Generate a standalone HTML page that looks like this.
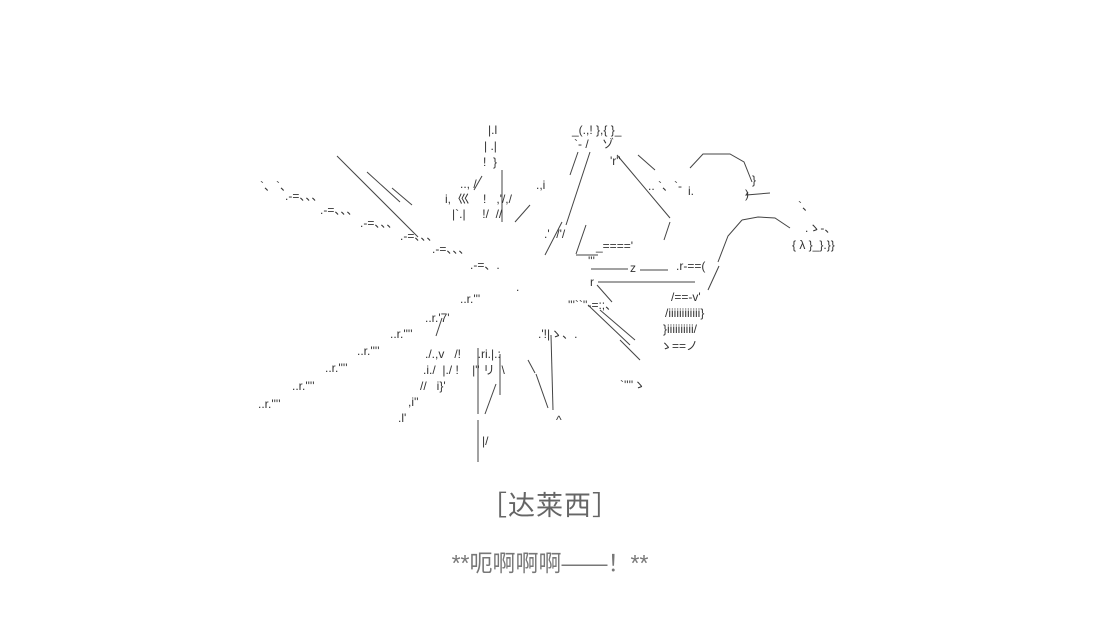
<!DOCTYPE html>
<html><head><meta charset="utf-8"><style>
html,body{margin:0;padding:0;background:#fff;width:1100px;height:633px;overflow:hidden}
svg{position:absolute;left:0;top:0}
text{font-family:"Liberation Sans","Noto Sans CJK SC",sans-serif;fill:#333;font-size:12px}
.c{position:absolute;left:0;width:1100px;text-align:center;color:#666;font-family:"Liberation Sans","Noto Sans CJK SC",sans-serif}
</style></head><body>
<svg width="1100" height="633" viewBox="0 0 1100 633">
<g stroke="#444" stroke-width="1" fill="none">
<line x1="337" y1="156" x2="418" y2="237"/>
<line x1="367" y1="172" x2="400" y2="202"/>
<line x1="392" y1="188" x2="412" y2="205"/>
<line x1="502" y1="170" x2="502" y2="222"/>
<line x1="482" y1="176" x2="474" y2="190"/>
<line x1="515" y1="222" x2="530" y2="205"/>
<line x1="578" y1="152" x2="570" y2="175"/>
<line x1="590" y1="152" x2="566" y2="225"/>
<line x1="562" y1="222" x2="545" y2="255"/>
<line x1="586" y1="225" x2="576" y2="254"/>
<line x1="576" y1="255" x2="598" y2="255"/>
<line x1="617" y1="155" x2="670" y2="218"/>
<line x1="670" y1="222" x2="664" y2="240"/>
<line x1="638" y1="155" x2="655" y2="170"/>
<path d="M690 168 L703 154 L730 154 L744 162 L752 182"/>
<path d="M748 192 L746 195 L770 193"/>
<path d="M742 220 L758 217 L775 218 L790 228"/>
<path d="M742 220 L728 236 L718 262"/>
<line x1="719" y1="266" x2="708" y2="290"/>
<line x1="591" y1="269" x2="628" y2="269"/>
<line x1="640" y1="270" x2="668" y2="270"/>
<line x1="598" y1="282" x2="695" y2="282"/>
<line x1="597" y1="285" x2="612" y2="302"/>
<line x1="588" y1="305" x2="630" y2="345"/>
<line x1="600" y1="310" x2="635" y2="340"/>
<line x1="620" y1="340" x2="640" y2="360"/>
<line x1="442" y1="318" x2="436" y2="336"/>
<line x1="478" y1="348" x2="478" y2="414"/>
<line x1="478" y1="420" x2="478" y2="462"/>
<line x1="496" y1="384" x2="485" y2="414"/>
<line x1="500" y1="354" x2="500" y2="395"/>
<line x1="551" y1="335" x2="553" y2="410"/>
<line x1="536" y1="374" x2="548" y2="408"/>
<line x1="528" y1="360" x2="535" y2="373"/>
</g>
<text x="488" y="134">|.l</text>
<text x="484" y="150">| .|</text>
<text x="483" y="166">!&#160;&#160;}</text>
<text x="460" y="188">..,&#160;/</text>
<text x="445" y="203">i,&#160;&#160;巛&#160;&#160;&#160;&#160;!&#160;&#160;&#160;,'/,/</text>
<text x="452" y="218">|`.|&#160;&#160;&#160;&#160;&#160;!/&#160;&#160;//</text>
<text x="536" y="189">.,i</text>
<text x="572" y="134">_(.,! },{ }_</text>
<text x="574" y="148">`- /&#160;&#160;&#160;&#160;ゾ</text>
<text x="610" y="165">'r"</text>
<text x="648" y="190">..&#160;`、`-</text>
<text x="688" y="195">i.</text>
<text x="752" y="184">}</text>
<text x="745" y="198">)</text>
<text x="798" y="210">`、</text>
<text x="805" y="232">.ゝ-、</text>
<text x="792" y="249">{ λ }_}.}}</text>
<text x="596" y="250">_===='</text>
<text x="544" y="238">.'&#160;&#160;/'/</text>
<text x="588" y="265">'''</text>
<text x="630" y="272">z</text>
<text x="676" y="270">.r-==(</text>
<text x="590" y="286">r</text>
<text x="671" y="301">/==-v'</text>
<text x="665" y="317">/iiiiiiiiiiii}</text>
<text x="663" y="333">}iiiiiiiiii/</text>
<text x="660" y="350">ゝ==ノ</text>
<text x="260" y="190" font-size="11">`、`、</text>
<text x="285" y="200" font-size="11">.-=、、、</text>
<text x="320" y="214" font-size="11">.-=、、、</text>
<text x="360" y="227" font-size="11">.-=、、、</text>
<text x="400" y="240" font-size="11">.-=、、、</text>
<text x="432" y="253" font-size="11">.-=、、、</text>
<text x="470" y="269" font-size="11">.-=、.</text>
<text x="258" y="408" font-size="11">..r.''''</text>
<text x="292" y="390" font-size="11">..r.''''</text>
<text x="325" y="372" font-size="11">..r.''''</text>
<text x="357" y="355" font-size="11">..r.''''</text>
<text x="390" y="338" font-size="11">..r.''''</text>
<text x="425" y="322" font-size="11">..r.'7'</text>
<text x="460" y="303" font-size="11">..r.'''</text>
<text x="425" y="358">./.,v&#160;&#160;&#160;/!&#160;&#160;&#160;&#160;&#160;.ri.|.:</text>
<text x="423" y="374">.i./&#160;&#160;|./&#160;!&#160;&#160;&#160;&#160;|" リ&#160;&#160;\</text>
<text x="420" y="390">//&#160;&#160;&#160;i}'</text>
<text x="408" y="406">,i''</text>
<text x="398" y="422">.l'</text>
<text x="538" y="338">.'!|ゝ、.</text>
<text x="568" y="309" font-size="11">'''``''-=:;、</text>
<text x="620" y="389" font-size="11">`''''ゝ</text>
<text x="556" y="424">^</text>
<text x="516" y="291">.</text>
<text x="482" y="445">|/</text>
</svg>
<div class="c" style="top:484px;font-size:27px;letter-spacing:1px">［达莱西］</div>
<div class="c" style="top:544px;font-size:23px;color:#777">**呃啊啊啊——！**</div>
</body></html>
